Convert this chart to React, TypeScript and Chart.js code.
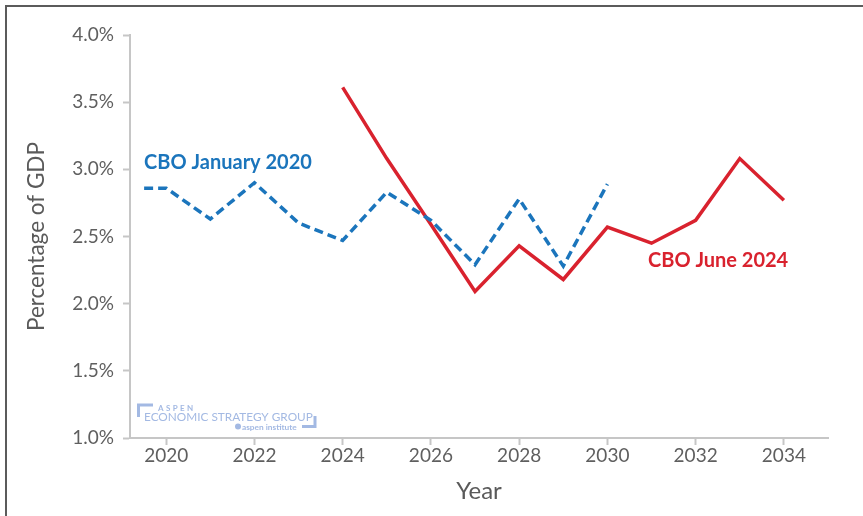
import React, { useEffect, useRef } from "react";
import { Chart, registerables } from "chart.js";

Chart.register(...registerables);

// CBO projections of interest costs, percentage of GDP
const janYears = [2019.5, 2020, 2021, 2022, 2023, 2024, 2025, 2026, 2027, 2028, 2029, 2030];
const janValues = [2.86, 2.86, 2.63, 2.9, 2.6, 2.47, 2.83, 2.62, 2.29, 2.78, 2.28, 2.89];
const juneYears = [2024, 2025, 2026, 2027, 2028, 2029, 2030, 2031, 2032, 2033, 2034];
const juneValues = [3.61, 3.08, 2.59, 2.09, 2.43, 2.18, 2.57, 2.45, 2.62, 3.08, 2.77];

const xTicks = [2020, 2022, 2024, 2026, 2028, 2030, 2032, 2034];
const yTicks = [1.0, 1.5, 2.0, 2.5, 3.0, 3.5, 4.0];

const BLUE = "#1b75bc";
const RED = "#d9222e";
const FONT = "Lato, 'Open Sans', sans-serif";

const decorPlugin = {
  id: "decor",
  beforeDraw(chart: any) {
    const { ctx, width, height } = chart;
    ctx.save();
    ctx.fillStyle = "#ffffff";
    ctx.fillRect(0, 0, width, height);
    ctx.strokeStyle = "#5b5b5b";
    ctx.lineWidth = 2;
    ctx.beginPath();
    ctx.moveTo(width, 6);
    ctx.lineTo(6, 6);
    ctx.lineTo(6, height);
    ctx.stroke();
    ctx.restore();
  },
  afterDraw(chart: any) {
    const { ctx, scales, chartArea } = chart;
    const x = scales.x;
    const y = scales.y;
    ctx.save();
    ctx.textBaseline = "middle";
    ctx.textAlign = "left";
    ctx.font = `bold 20px ${FONT}`;
    ctx.fillStyle = BLUE;
    ctx.fillText("CBO January 2020", x.getPixelForValue(2019.5), y.getPixelForValue(3.05));
    ctx.fillStyle = RED;
    ctx.fillText("CBO June 2024", x.getPixelForValue(2030.92), y.getPixelForValue(2.32));

    // Aspen Economic Strategy Group mark
    const lx = chartArea.left + 7;
    const by = chartArea.bottom;
    const logo = "#a3b9e3";
    ctx.strokeStyle = logo;
    ctx.fillStyle = logo;
    ctx.lineWidth = 3;
    ctx.beginPath();
    ctx.moveTo(lx + 16, by - 33);
    ctx.lineTo(lx + 1.5, by - 33);
    ctx.lineTo(lx + 1.5, by - 21);
    ctx.stroke();
    ctx.beginPath();
    ctx.moveTo(lx + 178, by - 22);
    ctx.lineTo(lx + 178, by - 11.5);
    ctx.lineTo(lx + 165, by - 11.5);
    ctx.stroke();
    ctx.font = `bold 8px ${FONT}`;
    const aspen = "ASPEN";
    let ax = lx + 21;
    for (const ch of aspen) {
      ctx.fillText(ch, ax, by - 30);
      ax += ctx.measureText(ch).width + 2.4;
    }
    ctx.font = `11.8px ${FONT}`;
    ctx.fillText("ECONOMIC STRATEGY GROUP", lx + 7, by - 21);
    ctx.font = `bold 8.3px ${FONT}`;
    ctx.fillText("aspen institute", lx + 105, by - 11);
    ctx.beginPath();
    ctx.arc(lx + 101, by - 11.5, 3, 0, Math.PI * 2);
    ctx.fill();
    ctx.restore();
  },
};

export default function App() {
  const ref = useRef<HTMLCanvasElement | null>(null);

  useEffect(() => {
    if (!ref.current) return;
    const chart = new Chart(ref.current, {
      type: "line",
      data: {
        datasets: [
          {
            label: "CBO January 2020",
            data: janYears.map((yr, i) => ({ x: yr, y: janValues[i] })),
            borderColor: BLUE,
            borderWidth: 3.5,
            borderDash: [9, 5],
            pointRadius: 0,
            tension: 0,
            fill: false,
          },
          {
            label: "CBO June 2024",
            data: juneYears.map((yr, i) => ({ x: yr, y: juneValues[i] })),
            borderColor: RED,
            borderWidth: 3.5,
            pointRadius: 0,
            tension: 0,
            fill: false,
          },
        ],
      },
      options: {
        responsive: false,
        animation: false,
        layout: { padding: { left: 0, right: 35, top: 35, bottom: 0 } },
        plugins: {
          legend: { display: false },
          tooltip: { enabled: false },
        },
        scales: {
          x: {
            type: "linear",
            min: 2019.18,
            max: 2035,
            afterBuildTicks: (s: any) => {
              s.ticks = xTicks.map((v) => ({ value: v }));
            },
            afterFit: (s: any) => {
              s.height = 78;
            },
            grid: {
              drawOnChartArea: false,
              drawTicks: true,
              tickLength: 7,
              tickWidth: 2,
              color: "#c6c6c6",
            },
            border: { display: true, color: "#c6c6c6", width: 2 },
            ticks: {
              padding: -1,
              color: "#5f5f5f",
              font: { family: FONT, size: 19 },
              callback: (v: any) => String(v),
            },
            title: {
              display: true,
              text: "Year",
              color: "#5a5a5a",
              font: { family: FONT, size: 24, lineHeight: 1.2 },
              padding: { top: 0, bottom: 10 },
            },
          },
          y: {
            type: "linear",
            min: 1,
            max: 4,
            afterBuildTicks: (s: any) => {
              s.ticks = yTicks.map((v) => ({ value: v }));
            },
            afterFit: (s: any) => {
              s.width = 130;
            },
            grid: {
              drawOnChartArea: false,
              drawTicks: true,
              tickLength: 7,
              tickWidth: 2,
              color: "#c6c6c6",
            },
            border: { display: true, color: "#c6c6c6", width: 2 },
            ticks: {
              padding: 9,
              color: "#5f5f5f",
              font: { family: FONT, size: 19 },
              callback: (v: any) => Number(v).toFixed(1) + "%",
            },
            title: {
              display: true,
              text: "Percentage of GDP",
              color: "#5a5a5a",
              font: { family: FONT, size: 22.5, lineHeight: 1.2 },
              padding: { top: 23, bottom: 0 },
            },
          },
        },
      },
      plugins: [decorPlugin],
    });
    return () => chart.destroy();
  }, []);

  return (
    <div style={{ position: "absolute", left: 0, top: 0, width: 863, height: 516 }}>
      <canvas ref={ref} width={863} height={516} style={{ width: 863, height: 516 }} />
    </div>
  );
}
